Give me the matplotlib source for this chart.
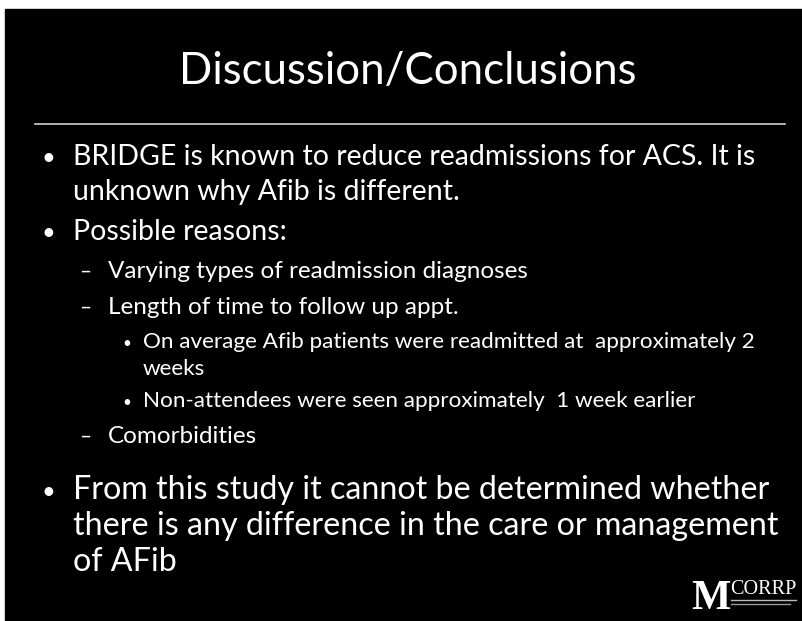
import matplotlib.pyplot as plt
from matplotlib.lines import Line2D
from matplotlib.patches import Rectangle

# slide content (text, baseline y in pixels)
title = "Discussion/Conclusions"
level1 = [
    ("BRIDGE is known to reduce readmissions for ACS. It is", 165),
    ("unknown why Afib is different.", 200),
    ("Possible reasons:", 240),
]
level2 = [
    ("Varying types of readmission diagnoses", 278),
    ("Length of time to follow up appt.", 314),
    ("Comorbidities", 443),
]
level3 = [
    ("On average Afib patients were readmitted at  approximately 2", 348),
    ("weeks", 375),
    ("Non-attendees were seen approximately  1 week earlier", 407),
]
last_bullet = [
    ("From this study it cannot be determined whether", 499),
    ("there is any difference in the care or management", 535),
    ("of AFib", 571),
]
bullet_rows = [165, 240, 499]
dash_rows = [278, 314, 443]
sub_bullet_rows = [348, 407]

W, H = 802, 621
FONT = "Lato"

fig = plt.figure(figsize=(W / 100, H / 100), dpi=100)
fig.patch.set_facecolor("white")
ax = fig.add_axes([0, 0, 1, 1])
ax.set_xlim(0, W)
ax.set_ylim(H, 0)
ax.axis("off")

# black slide area
ax.add_patch(Rectangle((5, 9), W - 5, H - 9, color="black", zorder=0))

# title and rule
ax.text(408, 84, title, color="white", fontsize=31.5, family=FONT,
        ha="center", va="baseline")
ax.add_line(Line2D([35, 785], [124, 124], color="#d0d0d0", lw=1.2))

for y in bullet_rows:
    ax.text(48, y, "•", color="white", fontsize=17, family=FONT, va="baseline", ha="center")
for y in dash_rows:
    ax.text(85, y, "–", color="white", fontsize=15, family=FONT, va="baseline", ha="center")
for y in sub_bullet_rows:
    ax.text(127, y, "•", color="white", fontsize=11, family=FONT, va="baseline", ha="center")

for txt, y in level1:
    ax.text(73, y, txt, color="white", fontsize=20.5, family=FONT, va="baseline")
for txt, y in level2:
    ax.text(108, y, txt, color="white", fontsize=17.5, family=FONT, va="baseline")
for txt, y in level3:
    ax.text(143, y, txt, color="white", fontsize=16.2, family=FONT, va="baseline")
for txt, y in last_bullet:
    ax.text(73, y, txt, color="white", fontsize=23.2, family=FONT, va="baseline")

# logo
ax.text(731, 609, "M", color="white", fontsize=30, family="Liberation Serif",
        weight="bold", va="baseline", ha="right")
ax.text(796, 594, "CORRP", color="white", fontsize=14.5, family="Liberation Serif",
        va="baseline", ha="right")
ax.add_line(Line2D([731, 796], [600, 600], color="#bbbbbb", lw=1))
ax.add_line(Line2D([731, 790], [604, 604], color="#999999", lw=1))

fig.savefig("out.png", dpi=100, facecolor=fig.get_facecolor())
